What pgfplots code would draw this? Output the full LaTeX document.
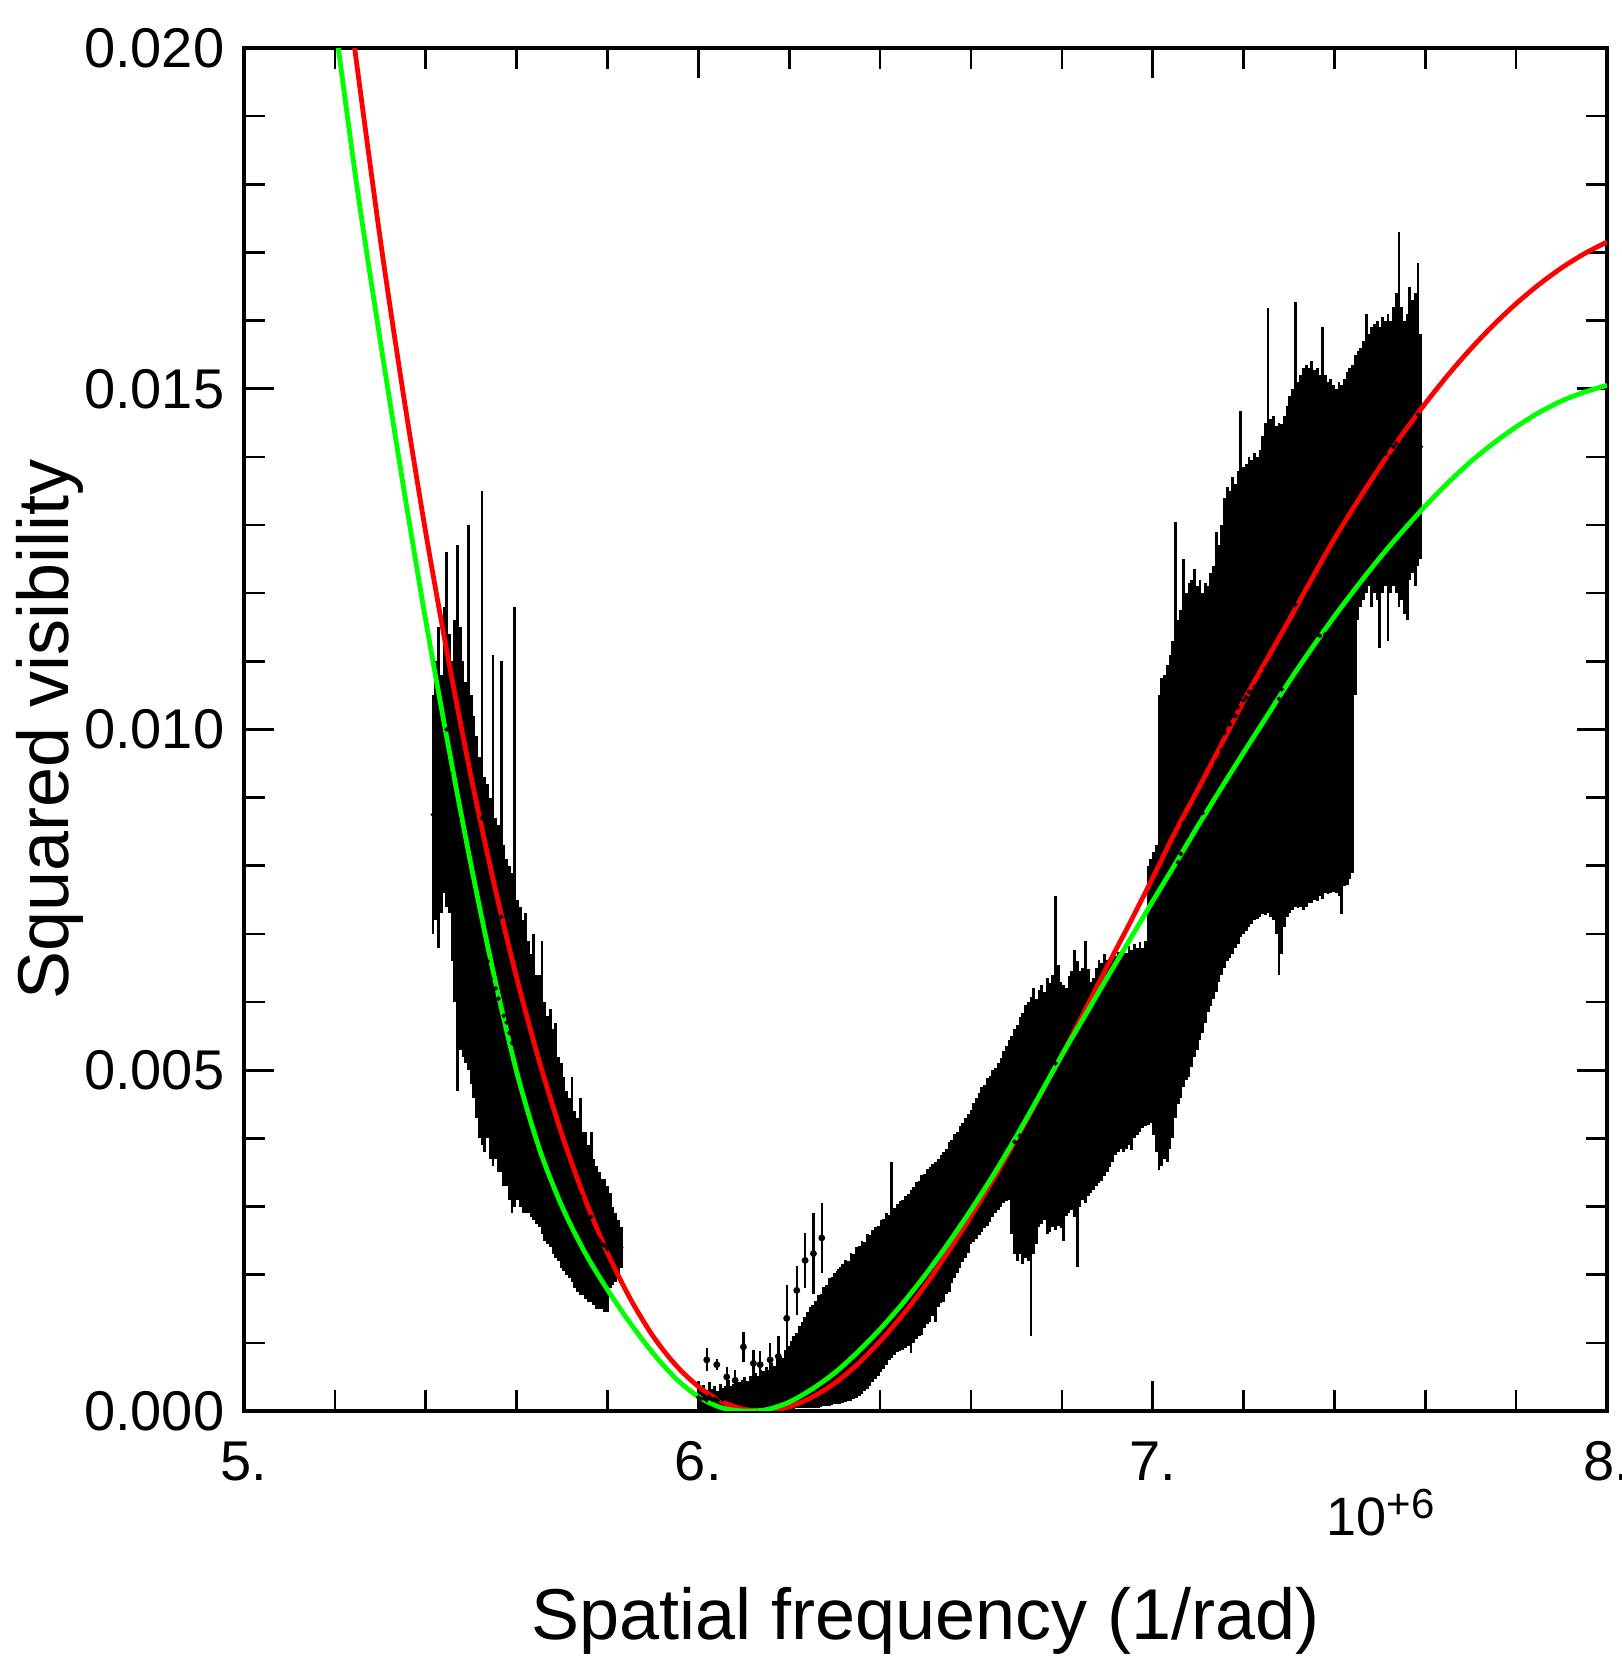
\documentclass[border=0pt]{standalone}
\usepackage{fontspec}
\setmainfont{Liberation Sans}
\usepackage{pgfplots}
\usepackage{pgfplotstable}
\pgfplotsset{compat=1.18}

% squared visibility in units of 1e-3, spatial frequency in units of 1e6
% each row: lowest and highest value of the error bars at that frequency
\pgfplotstableread{
f lo hi
5.416 7.0 10.5
5.422 7.2 11.0
5.428 6.8 11.5
5.434 7.3 10.8
5.440 7.6 11.8
5.446 7.4 12.6
5.452 7.3 11.4
5.458 6.6 11.0
5.464 6.0 11.6
5.470 4.7 12.7
5.476 5.3 11.5
5.482 5.2 11.0
5.488 5.1 10.7
5.494 5.0 13.0
5.500 4.8 10.5
5.506 4.6 10.2
5.512 4.3 9.9
5.518 4.0 9.6
5.524 3.9 13.5
5.530 3.8 9.3
5.536 4.0 9.2
5.542 3.7 9.0
5.548 3.6 11.1
5.554 3.7 8.7
5.560 3.5 8.6
5.566 3.5 11.0
5.572 3.3 8.3
5.578 3.3 8.1
5.584 3.1 8.0
5.590 2.9 7.9
5.596 3.0 11.8
5.602 3.1 7.5
5.608 3.0 7.4
5.614 2.9 7.2
5.620 2.9 7.3
5.626 2.9 6.9
5.632 2.85 6.7
5.638 2.8 7.0
5.644 2.75 6.4
5.650 2.7 6.4
5.656 2.6 6.9
5.662 2.5 6.0
5.668 2.45 5.8
5.674 2.4 5.9
5.680 2.3 5.6
5.686 2.25 5.7
5.692 2.2 5.2
5.698 2.1 5.1
5.704 2.05 4.9
5.710 2.0 4.7
5.716 1.95 4.6
5.722 1.9 4.9
5.728 1.8 4.4
5.734 1.75 4.3
5.740 1.7 4.6
5.746 1.7 4.1
5.752 1.65 4.1
5.758 1.6 3.9
5.764 1.6 4.1
5.770 1.55 3.7
5.776 1.5 3.6
5.782 1.5 3.5
5.788 1.5 3.4
5.794 1.45 3.4
5.800 1.45 3.3
5.806 1.8 3.2
5.812 1.85 3.0
5.818 1.9 2.9
5.824 2.0 2.8
5.830 2.1 2.7
6.000 0.00 0.40
6.006 0.01 0.35
6.012 0.00 0.38
6.018 0.02 0.30
6.024 0.00 0.42
6.030 0.01 0.33
6.036 0.00 0.36
6.042 0.01 0.30
6.048 0.00 0.40
6.054 0.00 0.34
6.060 0.01 0.37
6.066 0.00 0.45
6.072 0.00 0.36
6.078 0.01 0.40
6.084 0.00 0.48
6.090 0.00 0.42
6.096 0.01 0.45
6.102 0.00 0.50
6.108 0.00 0.44
6.114 0.01 0.52
6.120 0.00 0.50
6.126 0.00 0.56
6.132 0.01 0.52
6.138 0.00 0.60
6.144 0.00 0.58
6.150 0.01 0.64
6.156 0.00 0.60
6.162 0.01 0.70
6.168 0.00 0.66
6.174 0.01 0.76
6.180 0.02 0.80
6.186 0.02 0.78
6.192 0.02 0.90
6.198 0.03 0.95
6.204 0.03 1.02
6.210 0.03 1.10
6.216 0.04 1.15
6.222 0.04 1.25
6.228 0.04 1.30
6.234 0.05 1.38
6.240 0.05 1.45
6.246 0.05 1.52
6.252 0.05 1.55
6.258 0.05 1.62
6.264 0.05 1.70
6.270 0.06 1.72
6.276 0.07 1.82
6.282 0.08 1.85
6.288 0.08 1.95
6.294 0.09 1.96
6.300 0.10 2.02
6.306 0.11 2.05
6.312 0.11 2.12
6.318 0.12 2.15
6.324 0.13 2.22
6.330 0.14 2.20
6.336 0.15 2.32
6.342 0.17 2.30
6.348 0.19 2.40
6.354 0.22 2.42
6.360 0.25 2.50
6.366 0.29 2.48
6.372 0.33 2.60
6.378 0.37 2.58
6.384 0.42 2.66
6.390 0.47 2.70
6.396 0.52 2.72
6.402 0.57 2.80
6.408 0.62 2.82
6.414 0.68 2.90
6.420 0.75 2.88
6.426 0.78 3.65
6.432 0.82 2.98
6.438 0.86 3.04
6.444 0.88 3.08
6.450 0.90 3.10
6.456 0.92 3.15
6.462 0.95 3.18
6.468 0.85 3.25
6.474 1.00 3.28
6.480 1.05 3.36
6.486 1.10 3.38
6.492 1.12 3.46
6.498 1.22 3.48
6.504 1.28 3.55
6.510 1.30 3.58
6.516 1.40 3.62
6.522 1.30 3.66
6.528 1.52 3.70
6.534 1.58 3.76
6.540 1.60 3.80
6.546 1.72 3.85
6.552 1.75 3.95
6.558 1.88 3.98
6.564 1.95 4.06
6.570 2.02 4.10
6.576 2.10 4.18
6.582 2.18 4.22
6.588 2.25 4.30
6.594 2.32 4.36
6.600 2.45 4.42
6.606 2.48 4.52
6.612 2.52 4.60
6.618 2.58 4.66
6.624 2.62 4.75
6.630 2.68 4.78
6.636 2.72 4.88
6.642 2.78 4.92
6.648 2.85 5.00
6.654 2.90 5.04
6.660 2.95 5.10
6.666 3.00 5.18
6.672 3.05 5.28
6.678 3.08 5.36
6.684 3.10 5.45
6.690 2.60 5.50
6.696 2.30 5.60
6.702 2.20 5.66
6.708 2.30 5.78
6.714 2.15 5.84
6.720 2.25 5.95
6.726 2.20 6.00
6.732 1.10 6.08
6.738 2.30 6.20
6.744 2.45 6.05
6.750 2.70 6.18
6.756 2.75 6.25
6.762 2.80 6.15
6.768 2.60 6.35
6.774 2.62 6.28
6.780 2.70 6.40
6.786 2.65 7.55
6.792 2.72 6.55
6.798 2.68 6.30
6.804 2.50 6.25
6.810 2.86 6.20
6.816 2.90 6.38
6.822 2.95 6.45
6.828 2.85 6.76
6.834 2.12 6.60
6.840 3.00 6.45
6.846 3.10 6.50
6.852 3.05 6.90
6.858 3.15 6.48
6.864 3.20 6.30
6.870 3.25 6.35
6.876 3.30 6.50
6.882 3.34 6.62
6.888 3.38 6.58
6.894 3.45 6.70
6.900 3.50 6.62
6.906 3.58 6.66
6.912 3.65 6.72
6.918 3.75 6.68
6.924 3.80 6.74
6.930 3.85 6.70
6.936 3.80 6.78
6.942 3.85 6.72
6.948 3.90 6.82
6.954 3.83 6.76
6.960 4.00 6.85
6.966 4.05 6.80
6.972 4.10 6.88
6.978 4.15 6.80
6.984 4.18 6.90
6.990 4.20 8.00
6.996 4.22 8.10
7.002 4.05 8.20
7.008 3.80 8.30
7.014 3.54 10.50
7.020 3.60 10.75
7.026 3.70 10.80
7.032 3.65 10.95
7.038 3.85 11.10
7.044 4.00 11.30
7.050 4.30 13.05
7.056 4.50 11.60
7.062 4.60 11.75
7.068 4.75 12.50
7.074 4.85 12.00
7.080 4.90 12.15
7.086 5.05 12.20
7.092 5.20 12.35
7.098 5.30 12.10
7.104 5.45 12.20
7.110 5.55 12.00
7.116 5.70 12.15
7.122 5.85 12.10
7.128 5.95 12.30
7.134 6.05 12.40
7.140 6.15 12.90
7.146 6.30 12.70
7.152 6.40 13.00
7.158 6.50 13.40
7.164 6.60 13.56
7.170 6.65 13.50
7.176 6.70 13.70
7.182 6.80 13.60
7.188 6.85 13.80
7.194 6.95 14.68
7.200 7.00 13.85
7.206 7.05 13.90
7.212 7.10 14.00
7.218 7.15 13.95
7.224 7.20 14.05
7.230 7.22 14.00
7.236 7.25 14.10
7.242 7.30 14.30
7.248 7.28 14.50
7.254 7.30 16.18
7.260 7.25 14.55
7.266 7.20 14.60
7.272 7.00 14.45
7.278 6.40 14.50
7.284 6.70 14.48
7.290 7.10 14.60
7.296 7.25 14.75
7.302 7.30 14.90
7.308 7.35 15.00
7.314 7.40 16.27
7.320 7.38 15.10
7.326 7.40 15.20
7.332 7.35 15.30
7.338 7.40 15.35
7.344 7.45 15.30
7.350 7.45 15.40
7.356 7.50 15.28
7.362 7.48 15.30
7.368 7.55 15.20
7.374 7.52 15.90
7.380 7.60 15.20
7.386 7.58 15.10
7.392 7.60 15.15
7.398 7.62 15.05
7.404 7.60 15.00
7.410 7.55 15.10
7.416 7.29 15.05
7.422 7.70 15.15
7.428 7.72 15.25
7.434 7.80 15.30
7.440 7.90 15.35
7.446 10.50 15.50
7.452 11.60 15.55
7.458 11.80 15.60
7.464 11.90 15.70
7.470 12.00 16.10
7.476 12.10 15.80
7.482 11.80 15.90
7.488 12.00 15.95
7.494 11.90 16.00
7.500 11.20 15.90
7.506 12.00 16.05
7.512 12.10 16.00
7.518 11.30 16.10
7.524 12.00 16.00
7.530 12.10 16.20
7.536 12.00 16.40
7.542 11.80 17.30
7.548 11.90 16.20
7.554 11.70 16.00
7.560 11.60 16.10
7.566 12.20 16.50
7.572 12.30 16.30
7.578 12.10 16.40
7.584 12.40 16.84
7.590 12.50 15.80
}\cloud

% points that stand apart from the cloud near the minimum
\pgfplotstableread{
f c e
6.0185 0.75 0.17
6.0405 0.68 0.08
6.0625 0.50 0.15
6.0810 0.45 0.15
6.0992 0.94 0.22
6.1212 0.70 0.20
6.1360 0.68 0.20
6.1580 0.75 0.25
6.1760 0.80 0.30
6.1945 1.36 0.49
6.2166 1.77 0.36
6.2350 2.21 0.40
6.2533 2.31 0.59
6.2716 2.54 0.51
6.2900 1.70 0.17
6.3083 1.88 0.20
}\isolated

\pgfplotstableread{
f v
5.2435 20.00
5.30 17.19
5.35 14.95
5.40 12.89
5.45 11.02
5.50 9.30
5.55 7.75
5.60 6.36
5.65 5.13
5.70 4.05
5.75 3.12
5.80 2.32
5.85 1.65
5.90 1.10
5.95 0.675
6.00 0.359
6.05 0.144
6.10 0.027
6.15 0.002
6.20 0.061
6.25 0.202
6.30 0.408
6.35 0.683
6.40 1.024
6.45 1.411
6.50 1.849
6.55 2.338
6.60 2.858
6.65 3.407
6.70 3.997
6.75 4.605
6.80 5.222
6.85 5.866
6.90 6.525
6.95 7.164
7.00 7.823
7.05 8.500
7.10 9.126
7.15 9.764
7.20 10.415
7.25 11.013
7.30 11.602
7.35 12.210
7.40 12.798
7.45 13.338
7.50 13.851
7.55 14.335
7.60 14.784
7.65 15.201
7.70 15.585
7.75 15.934
7.80 16.249
7.85 16.528
7.90 16.773
7.95 16.981
8.00 17.154
}\modelred

\pgfplotstableread{
f v
5.2076 20.00
5.25 17.90
5.30 15.70
5.35 13.60
5.40 11.60
5.45 9.75
5.50 8.00
5.55 6.40
5.60 4.98
5.65 3.85
5.70 3.00
5.75 2.33
5.80 1.78
5.85 1.29
5.90 0.85
5.95 0.48
6.00 0.21
6.05 0.05
6.10 0.00
6.15 0.02
6.20 0.13
6.25 0.32
6.30 0.56
6.35 0.86
6.40 1.20
6.45 1.58
6.50 2.00
6.55 2.46
6.60 2.95
6.65 3.47
6.70 4.03
6.75 4.62
6.80 5.22
6.85 5.79
6.90 6.36
6.95 6.92
7.00 7.48
7.05 8.03
7.10 8.59
7.15 9.13
7.20 9.66
7.25 10.18
7.30 10.70
7.35 11.19
7.40 11.66
7.45 12.10
7.50 12.52
7.55 12.91
7.60 13.28
7.65 13.62
7.70 13.93
7.75 14.20
7.80 14.44
7.85 14.65
7.90 14.82
7.95 14.95
8.00 15.05
}\modelgreen

\begin{document}
\begin{tikzpicture}
\begin{axis}[
  scale only axis,
  width=340.75pt, height=340.75pt,
  xmin=5, xmax=8, ymin=0, ymax=20,
  xtick={5,6,7,8}, xticklabels={5.,6.,7.,8.},
  ytick={0,5,10,15,20},
  yticklabels={0.000,0.005,0.010,0.015,0.020},
  minor x tick num=4, minor y tick num=4,
  tick align=inside,
  major tick length=7.5pt, minor tick length=5.25pt,
  every tick/.style={black, line width=0.65pt},
  axis line style={line width=0.8pt},
  tick label style={font=\fontsize{14}{17}\selectfont},
  xticklabel style={anchor=base, inner sep=0pt, yshift=-17.25pt},
  yticklabel style={anchor=east, inner sep=0pt, xshift=-4.75pt},
  xlabel={Spatial frequency (1/rad)},
  ylabel={Squared visibility},
  label style={font=\fontsize{18}{22}\selectfont},
  xlabel style={at={(axis description cs:0.5,0)}, anchor=base, inner sep=0pt, yshift=-57pt},
  ylabel style={at={(axis description cs:-0.1673,0.5)}, anchor=north, inner sep=0pt},
]
\coordinate (bl) at (rel axis cs:0,0);
\coordinate (tr) at (rel axis cs:1,1);

\addplot[black, only marks, mark=*, mark size=0.35pt,
  error bars/.cd, y dir=both, y explicit, error mark=none,
  error bar style={line width=0.7pt}]
  table[x=f, y expr={(\thisrow{lo}+\thisrow{hi})/2},
        y error expr={(\thisrow{hi}-\thisrow{lo})/2}] {\cloud};

\addplot[black, only marks, mark=*, mark size=0.65pt,
  error bars/.cd, y dir=both, y explicit, error mark=none,
  error bar style={line width=0.6pt}]
  table[x=f, y=c, y error=e] {\isolated};

\addplot[red, line width=1.2pt, smooth, no markers] table[x=f, y=v] {\modelred};
\addplot[green, line width=1.2pt, smooth, no markers] table[x=f, y=v] {\modelgreen};
\end{axis}

\node[anchor=base west, inner sep=0pt, xshift=270.5pt, yshift=-31.25pt,
  font=\fontsize{13.5}{16}\selectfont] at (bl)
  {10\raisebox{4.25pt}{\fontsize{10.5}{12}\selectfont +6}};

\pgfresetboundingbox
\useasboundingbox ([shift={(-61pt,-63pt)}]bl) rectangle ([shift={(3.5pt,12pt)}]tr);
\end{tikzpicture}
\end{document}
